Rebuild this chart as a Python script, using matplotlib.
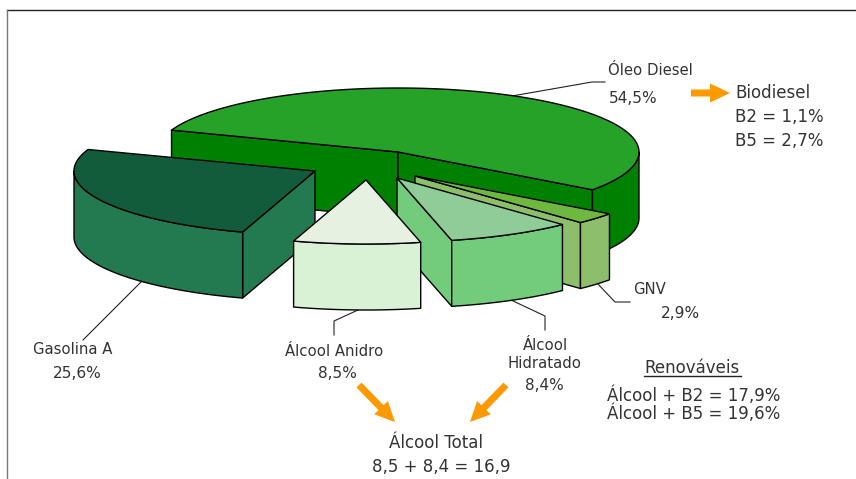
import numpy as np
import matplotlib
matplotlib.use("Agg")
import matplotlib.pyplot as plt
from matplotlib.patches import Polygon, FancyArrow

# --- data ---
categories = ["Óleo Diesel", "GNV", "Álcool Hidratado", "Álcool Anidro", "Gasolina A"]
shares = [54.5, 2.9, 8.4, 8.5, 25.6]
share_labels = ["54,5%", "2,9%", "8,4%", "8,5%", "25,6%"]
biodiesel_lines = ["Biodiesel", "B2 = 1,1%", "B5 = 2,7%"]
renewable_lines = ["Renováveis", "Álcool + B2 = 17,9%", "Álcool + B5 = 19,6%"]
total_lines = ["Álcool Total", "8,5 + 8,4 = 16,9"]

# --- layout / style ---
W, H = 856, 479
RX, RY, DEPTH = 241, 64, 66
START = 160.0
apexes = [(398, 152), (415, 176), (397, 178), (366, 180), (315, 171)]
top_colors = ["#26a228", "#6fb840", "#90cc98", "#e6f1e2", "#125c3c"]
wall_colors = ["#008000", "#8cbe6c", "#72cc7c", "#d9f1d4", "#237a50"]
draw_order = [0, 1, 2, 4, 3]
TXT = "#333333"
ORANGE = "#ff9900"
FS_LABEL = 10.7
FS_PCT = 11.1
FS_NOTE = 12.0

plt.rcParams["font.family"] = "DejaVu Sans"
fig = plt.figure(figsize=(W / 100, H / 100), dpi=100)
ax = fig.add_axes([0, 0, 1, 1])
ax.set_xlim(0, W)
ax.set_ylim(H, 0)
ax.axis("off")

ax.plot([7.5, W], [9.5, 9.5], color="#222222", lw=1.0, zorder=1)
ax.plot([7.5, 7.5], [9.5, H], color="#777777", lw=1.0, zorder=1)


def rim(c, a0, a1, n=120):
    t = np.radians(np.linspace(a0, a1, n))
    return np.column_stack([c[0] + RX * np.cos(t), c[1] - RY * np.sin(t)])


def face(pts, color, z):
    ax.add_patch(Polygon(pts, closed=True, facecolor=color, edgecolor="black",
                         lw=1.0, joinstyle="round", zorder=z))


total = 100.0
edges = START - np.concatenate([[0], np.cumsum(shares)]) * 360 / total
down = np.array([0, DEPTH])

for rank, i in enumerate(draw_order):
    z = 3 + rank
    a0, a1 = edges[i], edges[i + 1]
    c = np.array(apexes[i], float)
    top, wall = top_colors[i], wall_colors[i]
    for ang, vis in ((a0, np.cos(np.radians(a0)) < 0), (a1, np.cos(np.radians(a1)) > 0)):
        if vis:
            p = rim(c, ang, ang, 1)[0]
            face(np.array([c, p, p + down, c + down]), wall, z)
    # outer wall: only the part of the rim on the viewer's side
    lo, hi = max(a1, -180), min(a0, 0)
    if hi > lo:
        arc = rim(c, hi, lo)
        face(np.vstack([arc, arc[::-1] + down]), wall, z)
    face(np.vstack([c, rim(c, a0, a1)]), top, z)

# leader lines
leaders = [
    [(512, 96), (592, 82), (605, 82)],
    [(597, 283), (615, 302), (630, 302)],
    [(511, 300), (545, 316), (545, 330)],
    [(358, 310), (334, 321), (334, 335)],
    [(141, 282), (83, 340)],
]
for pts in leaders:
    x, y = zip(*pts)
    ax.plot(x, y, color="#222222", lw=0.8, zorder=2)

# arrows
for x0, y0, x1, y1 in [(691, 93, 730, 93), (359, 385, 395, 422), (506, 385, 470, 422)]:
    ax.add_patch(FancyArrow(x0, y0, x1 - x0, y1 - y0, width=7, head_width=19,
                            head_length=20, length_includes_head=True,
                            facecolor=ORANGE, edgecolor="none", zorder=6))


def label(x, y, s, ha="left", fs=FS_LABEL):
    ax.text(x, y, s, ha=ha, va="center", fontsize=fs, color=TXT, zorder=8)


label(608, 70, categories[0]); label(609, 98, share_labels[0], fs=FS_PCT)
label(735, 93, biodiesel_lines[0], fs=FS_NOTE)
label(735, 117, biodiesel_lines[1], fs=FS_NOTE)
label(735, 141, biodiesel_lines[2], fs=FS_NOTE)
label(633, 290, categories[1]); label(661, 313, share_labels[1], fs=FS_PCT)
label(545, 345, "Álcool", "center"); label(545, 363, "Hidratado", "center")
label(544, 386, share_labels[2], "center", FS_PCT)
label(334.5, 351, categories[3], "center"); label(337, 374, share_labels[3], "center", FS_PCT)
label(73, 350, categories[4], "center"); label(77.5, 373, share_labels[4], "center", FS_PCT)
label(692.5, 368, renewable_lines[0], "center", FS_NOTE)
ax.plot([644, 741], [375.5, 375.5], color="#222222", lw=1.0, zorder=8)
label(607, 396, renewable_lines[1], fs=FS_NOTE); label(607, 414, renewable_lines[2], fs=FS_NOTE)
label(436, 443, total_lines[0], "center", FS_NOTE); label(441.5, 467, total_lines[1], "center", FS_NOTE)

fig.savefig("out.png", dpi=100, facecolor="white")
